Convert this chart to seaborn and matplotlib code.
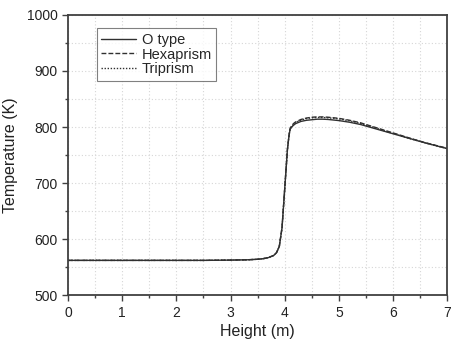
import matplotlib
matplotlib.use('Agg')
import pandas as pd
import seaborn as sns
import matplotlib.pyplot as plt
from matplotlib.ticker import MultipleLocator

# values
height = [0, 0.5, 1, 1.5, 2, 2.5, 3, 3.3, 3.5, 3.6, 3.7, 3.8, 3.85, 3.9, 3.95,
          4.0, 4.05, 4.08, 4.1, 4.13, 4.16, 4.2, 4.3, 4.4, 4.5, 4.6, 4.7, 4.8,
          5.0, 5.2, 5.4, 5.6, 5.8, 6.0, 6.2, 6.4, 6.6, 6.8, 7.0]
temp_otype = [562, 562, 562, 562, 562, 562, 562.5, 563, 564, 565, 567, 571, 576,
              587, 620, 690, 760, 785, 796, 800, 803, 806, 810, 812, 813, 814,
              814, 813.5, 811.5, 808.5, 804.5, 799, 793.5, 788, 782.5, 777,
              771.5, 766.5, 761.5]
temp_hexa = [562, 562, 562, 562, 562, 562, 562.5, 563, 564, 565, 567, 571, 576,
             587, 620, 690, 760, 786, 798, 802, 806, 809, 813.5, 816, 817.5,
             818, 818, 817.5, 815.5, 812, 807.5, 801.5, 795.5, 789.5, 783.5,
             777.5, 772, 767, 762]
temp_tri = [562, 562, 562, 562, 562, 562, 562.5, 563, 564, 565, 567, 571, 576,
            587, 620, 690, 760, 786, 797, 801, 805, 808, 812.5, 815, 816.5, 817,
            817, 816.5, 814.5, 811, 806.5, 800.5, 794.5, 788.5, 782.5, 777,
            771.5, 766.5, 761.5]
series_names = ["O type", "Hexaprism", "Triprism"]

sns.set_style("ticks")
plt.rcParams['font.family'] = ['Liberation Sans', 'DejaVu Sans']

fig = plt.figure(figsize=(4.54, 3.4), dpi=100)
ax = fig.add_axes([0.15, 0.132, 0.835, 0.824])

styles = ["-", (0, (3.5, 1.5)), (0, (1, 1.2))]
for name, temps, ls in zip(series_names, [temp_otype, temp_hexa, temp_tri], styles):
    df = pd.DataFrame({"Height": height, "Temp": temps})
    sns.lineplot(data=df, x="Height", y="Temp", ax=ax, color="#303030",
                 linewidth=1.0, linestyle=ls, label=name)

ax.set_xlim(0, 7)
ax.set_ylim(500, 1000)
ax.xaxis.set_major_locator(MultipleLocator(1))
ax.xaxis.set_minor_locator(MultipleLocator(0.5))
ax.yaxis.set_major_locator(MultipleLocator(100))
ax.yaxis.set_minor_locator(MultipleLocator(50))
ax.grid(True, which="both", color="#d6d6d6", linestyle=(0, (1, 2)), linewidth=0.8)
ax.set_axisbelow(True)

for sp in ax.spines.values():
    sp.set_color("#404040")
    sp.set_linewidth(1.3)
ax.tick_params(which="major", direction="out", length=4, width=1, colors="#404040",
               labelsize=10, labelcolor="#222222")
ax.tick_params(which="minor", direction="out", length=2, width=1, colors="#404040")

ax.set_xlabel("Height (m)", fontsize=11.5, color="#222222", labelpad=3)
ax.set_ylabel("Temperature (K)", fontsize=11.5, color="#222222", labelpad=6)

leg = ax.legend(loc="upper left", bbox_to_anchor=(0.075, 0.952), fontsize=10.5,
                frameon=True, fancybox=False, edgecolor="#606060",
                handlelength=2.4, handletextpad=0.4, borderpad=0.3,
                labelspacing=0.05, borderaxespad=0)
leg.get_frame().set_linewidth(0.8)

fig.savefig("out.png", dpi=100)
